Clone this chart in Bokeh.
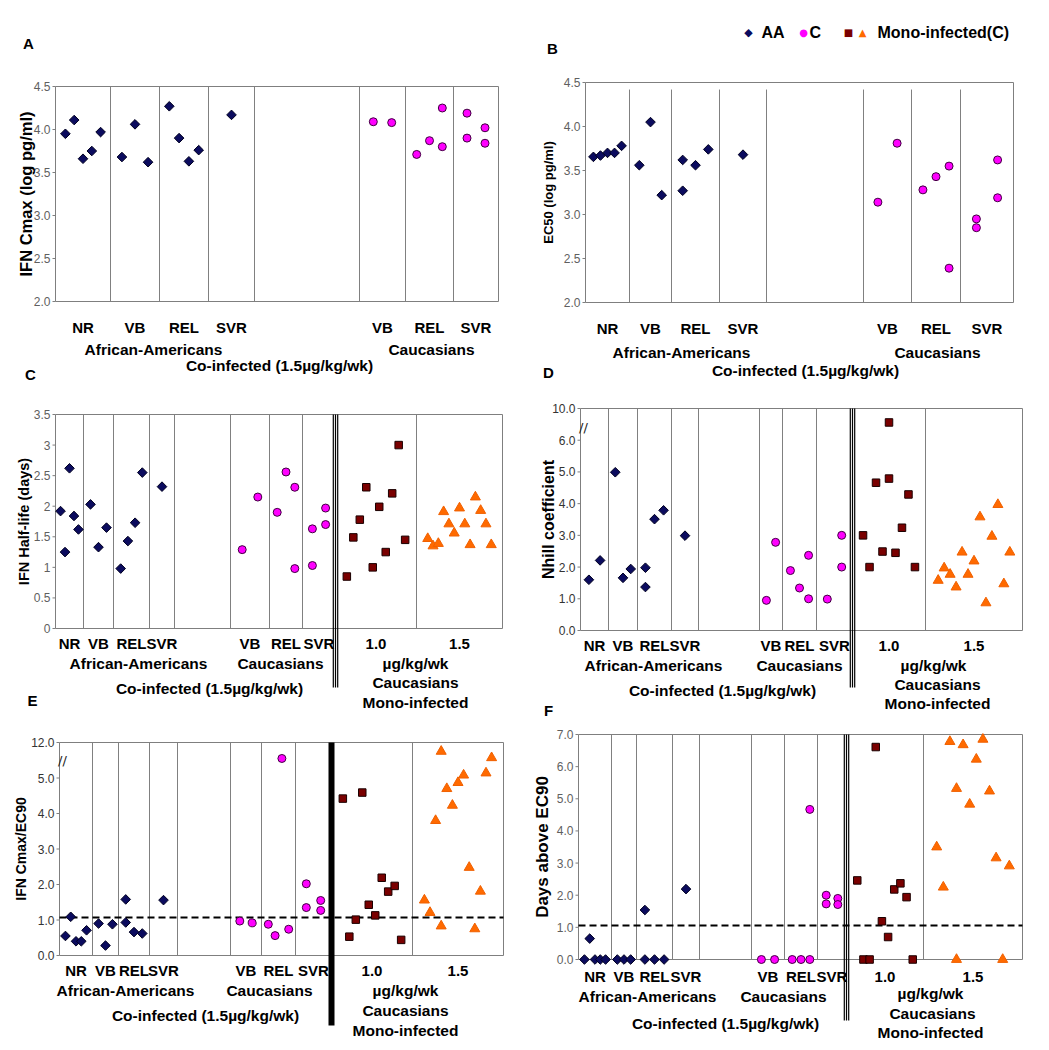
import math
from bokeh.plotting import figure
from bokeh.models import Range1d, Label
from bokeh.core.properties import value
from bokeh.layouts import column, row
from bokeh.embed import file_html
from bokeh.resources import INLINE

FONT = "Liberation Sans"
SYM = "DejaVu Sans"
MU = "\u00b5"

# ---------------- categories / texts ----------------
AA_GROUPS = ["NR", "VB", "REL", "SVR"]
C_GROUPS = ["VB", "REL", "SVR"]
DOSES = ["1.0", "1.5"]
AA_TXT = "African-Americans"
CAU_TXT = "Caucasians"
CO_TXT = "Co-infected (1.5" + MU + "g/kg/wk)"
UG_TXT = MU + "g/kg/wk"
MONO_TXT = "Mono-infected"
LEG_AA, LEG_C, LEG_M = "AA", "C", "Mono-infected(C)"

# ---------------- data (groups left->right; inner list = points sharing a column) ----------------
A_AA = [[3.95, 4.11, 3.66, 3.75, 3.97], [3.68, 4.06, 3.62], [4.27, 3.90, 3.63, 3.76], [4.17]]
A_C = [[4.09, 4.08], [3.71, 3.87, [4.25, 3.80]], [[4.19, 3.90], [4.02, 3.84]]]

B_AA = [[3.655, 3.67, 3.70, 3.70, 3.78], [3.56, 4.05, 3.22], [[3.62, 3.27], 3.56, 3.74], [3.68]]
B_C = [[3.14, 3.81], [3.28, 3.43, [3.55, 2.39]], [[2.95, 2.85], [3.62, 3.19]]]

C_AA = [[1.92, 1.25, 2.62, 1.84, 1.62], [2.03, 1.33, 1.65], [0.98, 1.43, 1.73, 2.55], [2.32]]
C_C = [[1.29, 2.15], [1.90, 2.56, [2.31, 0.98]], [[1.63, 1.03], [1.97, 1.70]]]
C_M10 = [0.85, 1.49, 1.78, 2.31, 1.00, 1.99, 1.25, 2.21, 3.00, 1.45]
C_M15 = [1.47, 1.35, 1.39, 1.91, 1.71, 1.56, 1.97, 1.71, 1.37, 2.15, 1.93, 1.71, 1.37]

D_AA = [[1.60, 2.21], [4.99, 1.66, 1.94], [[1.98, 1.37], 3.51, 3.79], [2.99]]
D_C = [[0.95, 2.78], [1.89, 1.34, [2.37, 1.00]], [0.99, [3.00, 2.00]]]
D_M10 = [3.00, 2.00, 4.66, 2.49, [4.79, 6.56], 2.45, 3.24, 4.29, 2.00]
D_M15 = [1.58, 1.97, 1.77, 1.37, 2.47, 1.77, 2.19, 3.58, 0.87, 2.97, 3.97, 1.47, 2.47]

E_AA = [[0.55, 1.09, 0.40, 0.40, 0.71], [0.90, 0.28, 0.88], [[1.58, 0.93], 0.66, 0.62], [1.56]]
E_C = [[0.97, 0.92], [0.88, 0.56, 5.55, 0.74], [[2.02, 1.35], [1.55, 1.27]]]
E_M10 = [4.42, 0.53, 1.01, 4.59, 1.43, 1.13, 2.19, 1.80, 1.96, 0.44]
E_M15 = [1.56, 1.21, 3.80, [0.83, 5.75], 4.70, 4.23, 4.87, 5.08, 2.48, 0.75, 1.81, 5.14, 5.57]

F_AA = [[0, 0.65, 0, 0, 0], [0, 0, 0], [[0, 1.54], 0, 0], [2.19]]
F_C = [[0, 0], [0, 0, [0, 4.67]], [[2.00, 1.73], [1.90, 1.71]]]
F_M10 = [2.46, 0, 0, 6.61, 1.19, 0.70, 2.18, 2.37, 1.94, 0]
F_M15 = [3.50, 2.25, 6.78, [0, 5.32], 6.68, 4.83, 6.23, 6.85, 5.24, 3.16, 0, 2.91]

E_THRESH = 1.07
F_THRESH = 1.06

# ---------------- tick labels ----------------
AB_TICKS = [2.0, 2.5, 3.0, 3.5, 4.0, 4.5]
AB_TICK_LABELS = ["2.0", "2.5", "3.0", "3.5", "4.0", "4.5"]
C_TICKS = [0, 0.5, 1, 1.5, 2, 2.5, 3, 3.5]
C_TICK_LABELS = ["0", "0.5", "1", "1.5", "2", "2.5", "3", "3.5"]
D_TICKS = [0, 1, 2, 3, 4, 5, 6, 7]
D_TICK_LABELS = ["0.0", "1.0", "2.0", "3.0", "4.0", "5.0", "6.0", "10.0"]
E_TICKS = [0, 1, 2, 3, 4, 5, 6]
E_TICK_LABELS = ["0.0", "1.0", "2.0", "3.0", "4.0", "5.0", "12.0"]
F_TICKS = [0, 1, 2, 3, 4, 5, 6, 7]
F_TICK_LABELS = ["0.0", "1.0", "2.0", "3.0", "4.0", "5.0", "6.0", "7.0"]

# ---------------- styles ----------------
AA_FILL, AA_LINE = "#0b0b5e", "#000020"
C_FILL, C_LINE = "#ff00ff", "#400040"
M10_FILL, M10_LINE = "#7a0000", "#1a0000"
M15_FILL, M15_LINE = "#ff6a00", "#f06000"
GRID = "#808080"
BOX = "#7f7f7f"
GROUP_SIZE = "15px"
SUPER_SIZE = "15.5px"
LETTER_SIZE = "15px"
LEGEND_SIZE = "16px"

# group boundaries (px from the left edge of the plotting box)
A_EDGES = [0, 55, 104, 153, 199, 304, 350, 398, 443]
B_EDGES = [0, 44, 86, 134, 181, 278, 326, 375, 428]
C_EDGES = [0, 28, 58, 94, 119, 175, 214, 247, 280, 361, 447]
D_EDGES = [0, 28, 57, 91, 118, 179, 202, 236, 272, 345, 442]
E_EDGES = [0, 33, 59, 90, 118, 171, 202, 236, 272, 353, 444]
F_EDGES = [0, 33, 58, 94, 121, 173, 206, 239, 268, 345, 444]


def panel(W, H, bl, bt, bb, edges, ylim, ticks, tick_labels, ylabel, ylabel_size, ylabel_dx,
          aa, cc, m10=None, m15=None, row_dy=15, supers=(), bar=None, bar_ext=0,
          dashed=None, brk=None, div_top=None, tick_size="12px", tick_color="#5f5f5f"):
    y0, y1 = ylim
    fh = H - bt - bb
    ppu = fh / (y1 - y0)
    p = figure(width=W, height=H, x_range=Range1d(-bl, W - bl),
               y_range=Range1d(y0 - bb / ppu, y1 + bt / ppu),
               x_axis_location=None, y_axis_location=None,
               output_backend="svg", toolbar_location=None, tools="",
               min_border=0, min_border_left=0, min_border_right=0,
               min_border_top=0, min_border_bottom=0)
    p.outline_line_color = None
    p.grid.visible = False
    p.background_fill_color = "white"
    p.border_fill_color = "white"

    def yb(dy):
        return y0 - dy / ppu

    def ya(dy):
        return y1 + dy / ppu

    def lab(x, y, text, size=GROUP_SIZE, style="bold", align="center", color="black",
            font=FONT, angle=0.0):
        p.add_layout(Label(x=x, y=y, text=text, text_font=font, text_font_size=size,
                           text_font_style=style, text_align=align, text_baseline="middle",
                           text_color=color, angle=angle))

    nint = len(edges) - 1
    bar_idx = 8 if nint == 10 else None
    xs = [edges[i] for i in range(1, nint) if i != bar_idx]
    top = div_top if div_top is not None else y1
    p.segment(x0=xs, y0=[y0] * len(xs), x1=xs, y1=[top] * len(xs),
              line_color=GRID, line_width=1)

    # plotting box + y axis
    p.quad(left=[0], right=[edges[-1]], bottom=[y0], top=[y1], fill_color=None,
           line_color=BOX, line_width=1)
    n = len(ticks)
    p.segment(x0=[-3] * n, x1=[0] * n, y0=ticks, y1=ticks, line_color=BOX, line_width=1)
    p.text(x=[-5] * n, y=ticks, text=tick_labels, text_align="right", text_baseline="middle",
           text_font=value(FONT), text_font_size=value(tick_size), text_color=tick_color)
    lab(ylabel_dx, (y0 + y1) / 2, ylabel, size=ylabel_size, angle=math.pi / 2)

    if bar_idx is not None:
        xb = edges[bar_idx]
        bottom = yb(bar_ext)
        if bar == "thick":
            p.quad(left=[xb - 3], right=[xb + 3], top=[y1], bottom=[bottom],
                   fill_color="black", line_color=None)
        else:
            offs = [-2.2, 0, 2.2]
            p.quad(left=[xb + o - 0.6 for o in offs], right=[xb + o + 0.6 for o in offs],
                   top=[y1] * 3, bottom=[bottom] * 3, fill_color="black", line_color=None)

    if dashed is not None:
        p.segment(x0=[0], x1=[edges[-1]], y0=[dashed], y1=[dashed], line_color="black",
                  line_width=2, line_dash="7 4")

    def place(groups, first):
        px, py = [], []
        for gi, grp in enumerate(groups):
            L, R = edges[first + gi], edges[first + gi + 1]
            k_n = len(grp)
            for k, e in enumerate(grp):
                x = L + (R - L) * (0.1 + 0.8 * (k + 0.5) / k_n)
                for v in (e if isinstance(e, list) else [e]):
                    px.append(x)
                    py.append(v)
        return px, py

    x, y = place(aa, 0)
    p.scatter(x, y, marker="square", angle=math.pi / 4, size=6.8,
              fill_color=AA_FILL, line_color=AA_LINE, line_width=1)
    x, y = place(cc, 5)
    p.scatter(x, y, marker="circle", size=8, fill_color=C_FILL, line_color=C_LINE, line_width=1)
    if m10 is not None:
        x, y = place([m10], 8)
        p.scatter(x, y, marker="square", size=7.5, fill_color=M10_FILL, line_color=M10_LINE,
                  line_width=1)
    if m15 is not None:
        x, y = place([m15], 9)
        p.scatter(x, y, marker="triangle", size=10, fill_color=M15_FILL, line_color=M15_LINE,
                  line_width=1)

    names = AA_GROUPS + [None] + C_GROUPS + (DOSES if nint == 10 else [])
    for i, nm in enumerate(names):
        if nm:
            lab((edges[i] + edges[i + 1]) / 2, yb(row_dy), nm)
    for text, xr, dy in supers:
        lab(xr, yb(dy), text, size=SUPER_SIZE)
    if brk is not None:
        lab(3, brk, "//", size="13px", style="normal", font=SYM, color="#222222")
    return p, lab, yb, ya


pA, labA, ybA, yaA = panel(530, 384, 55, 86, 83, A_EDGES, (2.0, 4.5), AB_TICKS, AB_TICK_LABELS,
                           "IFN Cmax (log pg/ml)", "16.5px", -30, A_AA, A_C, row_dy=26,
                           supers=[(AA_TXT, 98, 48), (CAU_TXT, 376, 48), (CO_TXT, 224, 64)])
labA(-27, yaA(43), "A", size=LETTER_SIZE)
labA(-25, ybA(73), "C", size=LETTER_SIZE)

pB, labB, ybB, yaB = panel(519, 384, 55, 82, 82, B_EDGES, (2.0, 4.5), AB_TICKS, AB_TICK_LABELS,
                           "EC50 (log pg/ml)", "13px", -37, B_AA, B_C, row_dy=26, div_top=4.42,
                           supers=[(AA_TXT, 96, 50), (CAU_TXT, 352, 50), (CO_TXT, 220, 68)])
labB(-33, yaB(34), "B", size=LETTER_SIZE)
labB(-37, ybB(70), "D", size=LETTER_SIZE)
ly = yaB(50)
labB(163, ly, "\u25c6", size="11px", style="normal", font=SYM, color=AA_FILL)
labB(176, ly, LEG_AA, align="left", size=LEGEND_SIZE)
labB(218, ly, "\u25cf", size="10px", style="normal", font=SYM, color=C_FILL)
labB(224, ly, LEG_C, align="left", size=LEGEND_SIZE)
labB(263, ly, "\u25a0", size="10px", style="normal", font=SYM, color=M10_FILL)
labB(277, ly, "\u25b2", size="10px", style="normal", font=SYM, color=M15_FILL)
labB(292, ly, LEG_M, align="left", size=LEGEND_SIZE)

pC, labC, ybC, yaC = panel(530, 336, 55, 30, 92, C_EDGES, (0, 3.5), C_TICKS, C_TICK_LABELS,
                           "IFN Half-life (days)", "14.5px", -32, C_AA, C_C, C_M10, C_M15,
                           row_dy=15, bar="triple", bar_ext=59,
                           supers=[(AA_TXT, 83, 35), (CAU_TXT, 225, 35), (CO_TXT, 154, 60),
                                   (UG_TXT, 360, 35), (CAU_TXT, 360, 54), (MONO_TXT, 360, 74)])
labC(-23, ybC(72), "E", size=LETTER_SIZE)

pD, labD, ybD, yaD = panel(519, 336, 50, 24, 90, D_EDGES, (0, 7), D_TICKS, D_TICK_LABELS,
                           "Nhill coefficient", "16px", -32, D_AA, D_C, D_M10, D_M15,
                           row_dy=15, bar="triple", bar_ext=57, brk=6.4, tick_color="#333333",
                           supers=[(AA_TXT, 73, 35), (CAU_TXT, 219, 35), (CO_TXT, 142, 60),
                                   (UG_TXT, 353, 35), (CAU_TXT, 357, 54), (MONO_TXT, 357, 73)])
labD(-32, ybD(80), "F", size=LETTER_SIZE)

pE, labE, ybE, yaE = panel(530, 330, 59, 22, 95, E_EDGES, (0, 6), E_TICKS, E_TICK_LABELS,
                           "IFN Cmax/EC90", "14px", -39, E_AA, E_C, E_M10, E_M15,
                           row_dy=15, bar="thick", bar_ext=70, dashed=E_THRESH, brk=5.5,
                           tick_color="#333333",
                           supers=[(AA_TXT, 66, 35), (CAU_TXT, 210, 35), (CO_TXT, 146, 60),
                                   (UG_TXT, 346, 35), (CAU_TXT, 346, 55), (MONO_TXT, 346, 75)])

pF, labF, ybF, yaF = panel(519, 330, 48, 14, 91, F_EDGES, (0, 7), F_TICKS, F_TICK_LABELS,
                           "Days above EC90", "17px", -36, F_AA, F_C, F_M10, F_M15,
                           row_dy=17, bar="triple", bar_ext=61, dashed=F_THRESH,
                           supers=[(AA_TXT, 69, 37), (CAU_TXT, 205, 37), (CO_TXT, 147, 64),
                                   (UG_TXT, 352, 34), (CAU_TXT, 354, 54), (MONO_TXT, 352, 73)])

layout = column(row(pA, pB), row(pC, pD), row(pE, pF))
open("out.html", "w").write(file_html(layout, INLINE))
